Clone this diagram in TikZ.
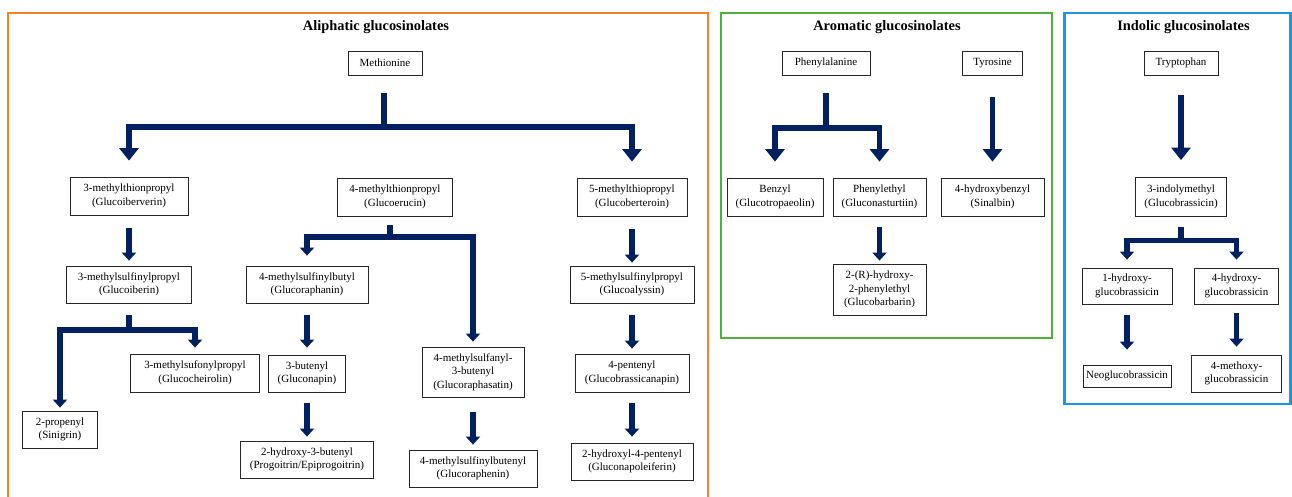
\documentclass[tikz,border=0pt]{standalone}
\usepackage{fontspec}
\setmainfont{Liberation Serif}
\usetikzlibrary{arrows.meta}

\definecolor{arrowblue}{RGB}{0,32,96}
\definecolor{aliorange}{RGB}{247,128,40}
\definecolor{aromgreen}{RGB}{80,176,60}
\definecolor{indblue}{RGB}{30,150,220}

\tikzset{
  chem/.style={draw=black!85, line width=0.8pt, fill=white, align=center, inner sep=1pt,
               font=\fontsize{11}{13.5}\selectfont},
  sz/.style 2 args={minimum width=#1pt, minimum height=#2pt},
  stem/.style={draw=arrowblue, line width=5.7pt},
  flow/.style={stem, -{Triangle[width=14pt,length=8pt]}},
  bigflow/.style={stem, -{Triangle[width=19pt,length=12.5pt]}},
  frame/.style={line width=2.5pt},
  grouptitle/.style={font=\fontsize{14.4}{17}\selectfont\bfseries},
}

\begin{document}
\begin{tikzpicture}[x=1pt,y=-1pt]
  \useasboundingbox (0,0) rectangle (1292,496);

% frames
  \draw[frame, aliorange] (8,13) rectangle (708,520);
  \draw[frame, aromgreen] (721,13) rectangle (1052,338);
  \draw[frame, indblue] (1064.5,13) rectangle (1290.5,404);

  \node[grouptitle] (tali) at (376,27) {Aliphatic glucosinolates};
  \node[grouptitle] (taro) at (887,27) {Aromatic glucosinolates};
  \node[grouptitle] (tind) at (1183.5,27) {Indolic glucosinolates};

% aliphatic: nodes
  \node[chem, sz={74}{24}] (meth) at (385,63) {Methionine};
  \node[chem, sz={118}{38}] (iberv) at (129,196) {3-methylthionpropyl\\(Glucoiberverin)};
  \node[chem, sz={115}{38}] (eru) at (395,197) {4-methylthionpropyl\\(Glucoerucin)};
  \node[chem, sz={110}{38}] (bert) at (632,197) {5-methylthiopropyl\\(Glucoberteroin)};
  \node[chem, sz={125}{37}] (iberin) at (129,284.5) {3-methylsulfinylpropyl\\(Glucoiberin)};
  \node[chem, sz={122}{37}] (raphanin) at (307,284.5) {4-methylsulfinylbutyl\\(Glucoraphanin)};
  \node[chem, sz={124}{37}] (alyssin) at (632,284.5) {5-methylsulfinylpropyl\\(Glucoalyssin)};
  \node[chem, sz={129}{38}] (cheir) at (195,373) {3-methylsufonylpropyl\\(Glucocheirolin)};
  \node[chem, sz={75}{37}] (sinig) at (60,429.5) {2-propenyl\\(Sinigrin)};
  \node[chem, sz={77}{37}] (napin) at (307,373.5) {3-butenyl\\(Gluconapin)};
  \node[chem, sz={102}{50}] (raphasatin) at (473,372) {4-methylsulfanyl-\\3-butenyl\\(Glucoraphasatin)};
  \node[chem, sz={114}{38}] (brassicanapin) at (632,373) {4-pentenyl\\(Glucobrassicanapin)};
  \node[chem, sz={133}{37}] (progoitrin) at (307,459.5) {2-hydroxy-3-butenyl\\(Progoitrin/Epiprogoitrin)};
  \node[chem, sz={128}{37}] (raphenin) at (473,468.5) {4-methylsulfinylbutenyl\\(Glucoraphenin)};
  \node[chem, sz={122}{37}] (napoleiferin) at (632,461.5) {2-hydroxyl-4-pentenyl\\(Gluconapoleiferin)};

% aliphatic: arrows
  \coordinate (jmeth) at (384,127);
  \draw[stem, shorten <=18pt] (meth.south -| jmeth) -- (jmeth);
  \draw[bigflow, shorten >=16pt] (jmeth) -| (iberv.north);
  \draw[bigflow, shorten >=16pt] (jmeth) -| (bert.north);

  \coordinate (jeru) at (390,237);
  \draw[stem, shorten <=9pt] (eru.south -| jeru) -- (jeru);
  \draw[flow, shorten >=10pt] (jeru) -| (raphanin.north);
  \draw[flow, shorten >=5pt] (jeru) -| (raphasatin.north);

  \coordinate (jiberin) at (129,330);
  \draw[stem, shorten <=12pt] (iberin.south -| jiberin) -- (jiberin);
  \draw[flow, shorten >=3pt] (jiberin) -| (sinig.north);
  \draw[flow, shorten >=6pt] (jiberin) -| (cheir.north);

  \draw[flow, shorten <=13pt, shorten >=5pt] (iberv) -- (iberin);
  \draw[flow, shorten <=13pt, shorten >=3pt] (bert) -- (alyssin);
  \draw[flow, shorten <=12pt, shorten >=7pt] (raphanin) -- (napin);
  \draw[flow, shorten <=11pt, shorten >=4pt] (napin) -- (progoitrin);
  \draw[flow, shorten <=15pt, shorten >=5pt] (raphasatin) -- (raphenin);
  \draw[flow, shorten <=12pt, shorten >=5pt] (alyssin) -- (brassicanapin);
  \draw[flow, shorten <=11pt, shorten >=6pt] (brassicanapin) -- (napoleiferin);

% aromatic
  \node[chem, sz={88}{24}] (phe) at (826,63) {Phenylalanine};
  \node[chem, sz={60}{24}] (tyr) at (992.5,63) {Tyrosine};
  \node[chem, sz={96}{38}] (benzyl) at (775,197) {Benzyl\\(Glucotropaeolin)};
  \node[chem, sz={93}{38}] (phenethyl) at (879.5,197) {Phenylethyl\\(Gluconasturtiin)};
  \node[chem, sz={103}{38}] (sinalbin) at (992.5,197) {4-hydroxybenzyl\\(Sinalbin)};
  \node[chem, sz={93}{51}] (barbarin) at (879.5,289.5) {2-(R)-hydroxy-\\2-phenylethyl\\(Glucobarbarin)};

  \coordinate (jphe) at (826,128);
  \draw[stem, shorten <=18pt] (phe.south -| jphe) -- (jphe);
  \draw[bigflow, shorten >=16pt] (jphe) -| (benzyl.north);
  \draw[bigflow, shorten >=16pt] (jphe) -| (phenethyl.north);
  \draw[bigflow, shorten <=22pt, shorten >=16pt] (tyr) -- (sinalbin);
  \draw[flow, shorten <=11pt, shorten >=3pt] (phenethyl) -- (barbarin);

% indolic
  \node[chem, sz={74}{24}] (trp) at (1181,63) {Tryptophan};
  \node[chem, sz={91}{39}] (gbs) at (1181,197) {3-indolymethyl\\(Glucobrassicin)};
  \node[chem, sz={90}{36}] (oh1) at (1127,286) {1-hydroxy-\\glucobrassicin};
  \node[chem, sz={84}{36}] (oh4) at (1236.5,286) {4-hydroxy-\\glucobrassicin};
  \node[chem, sz={88}{22}] (neo) at (1127,376) {Neoglucobrassicin};
  \node[chem, sz={90}{37}] (meo4) at (1236.5,373.5) {4-methoxy-\\glucobrassicin};

  \draw[bigflow, shorten <=20pt, shorten >=17pt] (trp) -- (gbs);
  \coordinate (jgbs) at (1181,240.5);
  \draw[stem, shorten <=10pt] (gbs.south -| jgbs) -- (jgbs);
  \draw[flow, shorten >=8pt] (jgbs) -| (oh1.north);
  \draw[flow, shorten >=8pt] (jgbs) -| (oh4.north);
  \draw[flow, shorten <=11pt, shorten >=15pt] (oh1) -- (neo);
  \draw[flow, shorten <=9pt, shorten >=8pt] (oh4) -- (meo4);

\end{tikzpicture}
\end{document}
